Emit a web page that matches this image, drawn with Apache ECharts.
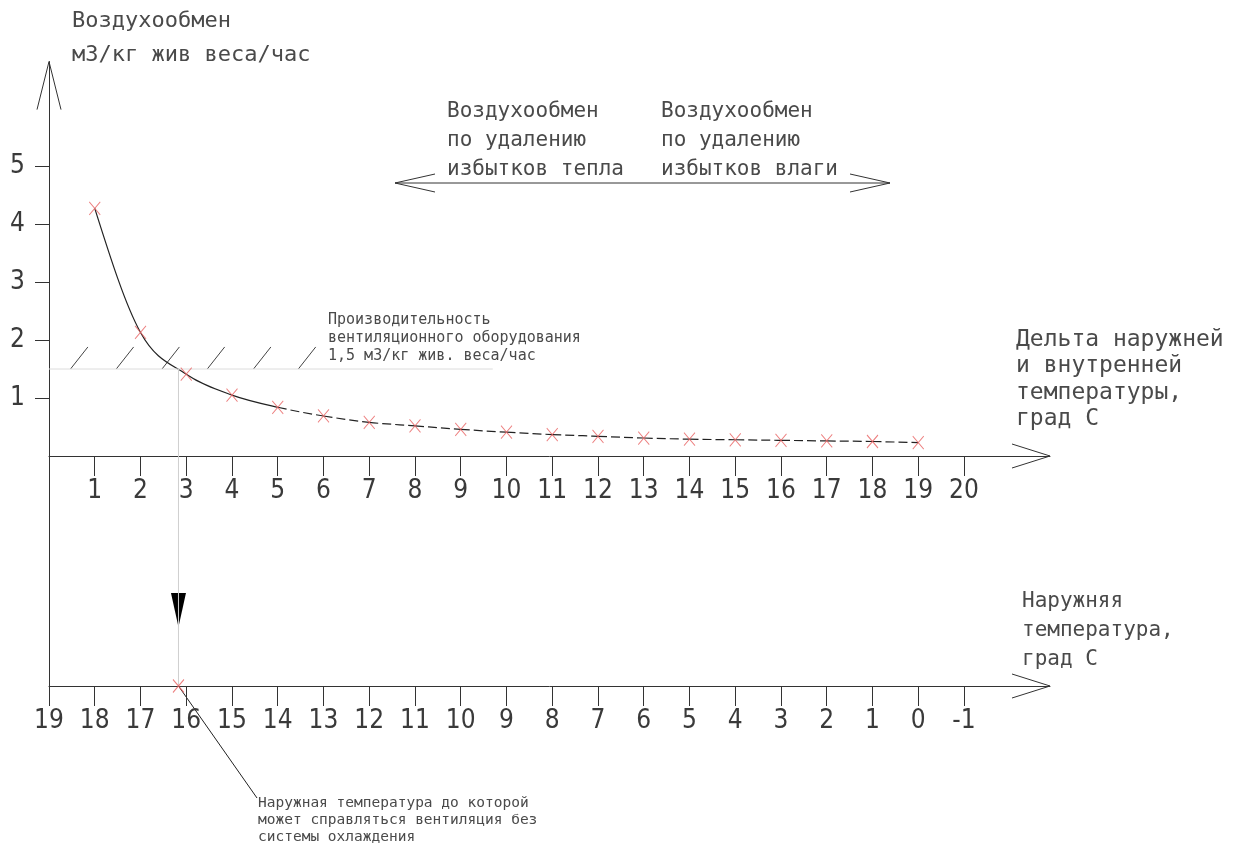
<!DOCTYPE html>
<html>
<head>
<meta charset="utf-8">
<script src="https://cdn.jsdelivr.net/npm/echarts@6/dist/echarts.min.js"></script>
<style>
  html, body { margin: 0; padding: 0; background: #fff; }
  #chart { width: 1234px; height: 852px; }
</style>
</head>
<body>
<div id="chart"></div>
<script>
// Temperature difference (outdoor vs indoor), град С
const deltaT = [1, 2, 3, 4, 5, 6, 7, 8, 9, 10, 11, 12, 13, 14, 15, 16, 17, 18, 19];
// Required air exchange, м3/кг живого веса в час
const airExchange = [4.27, 2.13, 1.41, 1.05, 0.84, 0.69, 0.58, 0.52, 0.46, 0.41, 0.37, 0.34, 0.31, 0.29, 0.28, 0.27, 0.26, 0.25, 0.23];

// Axis tick labels
const airTicks = [1, 2, 3, 4, 5];
const deltaTicks = [1, 2, 3, 4, 5, 6, 7, 8, 9, 10, 11, 12, 13, 14, 15, 16, 17, 18, 19, 20];
const outdoorTicks = [19, 18, 17, 16, 15, 14, 13, 12, 11, 10, 9, 8, 7, 6, 5, 4, 3, 2, 1, 0, -1];

// Ventilation equipment capacity and where the curve drops below it
const capacity = 1.5;
const capacityLineEnd = 9.7;
const crossDelta = 2.83;
const outdoorAtZeroDelta = 19;
const crossOutdoor = outdoorAtZeroDelta - crossDelta;

// Hatching above the capacity line (start on the line, rise up-right)
const hatchStarts = [0.47, 1.47, 2.47, 3.46, 4.47, 5.45];
const hatchRise = 0.38;

// Axis extents
const deltaMax = 21.88;
const airMax = 6.8;

// The curve is drawn solid up to this point index, dashed afterwards
const solidUntil = 4;

const INK = '#333';
const TEXT = '#4a4a4a';
const MARK = '#e86060';
const NUM_FONT = '"Liberation Sans Narrow", "DejaVu Sans Condensed", "Liberation Sans", sans-serif';
const TXT_FONT = '"DejaVu Sans Mono", "Liberation Mono", monospace';

const points = deltaT.map((d, i) => [d, airExchange[i]]);

const xMarkPath = 'path://M0,0L10,12M10,0L0,12';

const numLabel = {
  fontFamily: NUM_FONT,
  fontSize: 26,
  color: '#3a3a3a'
};

// Smooth curve through the points: one cubic Hermite segment per data item,
// Catmull-Rom tangents inside, natural (zero curvature) tangents at the ends
function tangentAt(k, c, n) {
  if (k > 0 && k < n - 1) {
    const a = c(k - 1), b = c(k + 1);
    return [(b[0] - a[0]) / 2, (b[1] - a[1]) / 2];
  }
  if (k === 0) {
    const p0 = c(0), p1 = c(1), m1 = tangentAt(1, c, n);
    return [1.5 * (p1[0] - p0[0]) - 0.5 * m1[0], 1.5 * (p1[1] - p0[1]) - 0.5 * m1[1]];
  }
  const pa = c(n - 2), pb = c(n - 1), ma = tangentAt(n - 2, c, n);
  return [1.5 * (pb[0] - pa[0]) - 0.5 * ma[0], 1.5 * (pb[1] - pa[1]) - 0.5 * ma[1]];
}

function renderCurveSegment(params, api) {
  const i = params.dataIndex;
  const n = points.length;
  if (i >= n - 1) return null;
  const c = k => api.coord(points[k]);
  const p1 = c(i), p2 = c(i + 1);
  const m1 = tangentAt(i, c, n), m2 = tangentAt(i + 1, c, n);
  return {
    type: 'bezierCurve',
    shape: {
      x1: p1[0], y1: p1[1], x2: p2[0], y2: p2[1],
      cpx1: p1[0] + m1[0] / 3, cpy1: p1[1] + m1[1] / 3,
      cpx2: p2[0] - m2[0] / 3, cpy2: p2[1] - m2[1] / 3
    },
    style: {
      stroke: '#222', lineWidth: 1.2, fill: null,
      lineDash: i >= solidUntil ? [9, 4] : null
    }
  };
}

const chart = echarts.init(document.getElementById('chart'), null, { renderer: 'canvas' });

const option = {
  animation: false,
  backgroundColor: '#fff',
  grid: [
    { left: 49, width: 1001, top: 456 - airMax * 58, height: airMax * 58 },
    { left: 49, width: 1001, top: 456, height: 230 }
  ],
  xAxis: [
    {
      gridIndex: 0, type: 'value', min: 0, max: deltaMax, position: 'bottom',
      axisLine: { show: true, onZero: false, lineStyle: { color: INK, width: 1 } },
      axisTick: { show: true, customValues: deltaTicks, length: 20, lineStyle: { color: INK } },
      axisLabel: Object.assign({ customValues: deltaTicks, margin: 22 }, numLabel),
      splitLine: { show: false }
    },
    {
      gridIndex: 1, type: 'value', min: outdoorAtZeroDelta - deltaMax, max: outdoorAtZeroDelta,
      inverse: true, position: 'bottom',
      axisLine: { show: true, onZero: false, lineStyle: { color: INK, width: 1 } },
      axisTick: { show: true, customValues: outdoorTicks, length: 20, lineStyle: { color: INK } },
      axisLabel: Object.assign({ customValues: outdoorTicks, margin: 22 }, numLabel),
      splitLine: { show: false }
    }
  ],
  yAxis: [
    {
      gridIndex: 0, type: 'value', min: 0, max: airMax, position: 'left',
      axisLine: { show: true, onZero: false, lineStyle: { color: INK, width: 1 } },
      axisTick: { show: true, customValues: airTicks, length: 14, lineStyle: { color: INK } },
      axisLabel: Object.assign({ customValues: airTicks, margin: 24 }, numLabel),
      splitLine: { show: false }
    },
    {
      gridIndex: 1, type: 'value', min: 0, max: 1, position: 'left',
      axisLine: { show: true, onZero: false, lineStyle: { color: INK, width: 1 } },
      axisTick: { show: false },
      axisLabel: { show: false },
      splitLine: { show: false }
    }
  ],
  series: [
    {
      name: 'capacity', type: 'line', xAxisIndex: 0, yAxisIndex: 0,
      data: [[0, capacity], [capacityLineEnd, capacity]],
      symbol: 'none', silent: true,
      lineStyle: { color: '#dcdcdc', width: 1 }
    },
    {
      name: 'hatch', type: 'custom', xAxisIndex: 0, yAxisIndex: 0, silent: true,
      data: hatchStarts.map(h => [h, capacity]),
      renderItem: function (params, api) {
        const a = api.coord([api.value(0), api.value(1)]);
        const b = api.coord([api.value(0) + hatchRise, api.value(1) + hatchRise]);
        return {
          type: 'line',
          shape: { x1: a[0], y1: a[1], x2: b[0], y2: b[1] },
          style: { stroke: '#444', lineWidth: 1 }
        };
      }
    },
    {
      name: 'drop-upper', type: 'line', xAxisIndex: 0, yAxisIndex: 0,
      data: [[crossDelta, capacity], [crossDelta, 0]],
      symbol: 'none', silent: true,
      lineStyle: { color: '#cfcfcf', width: 1 }
    },
    {
      name: 'drop-lower', type: 'line', xAxisIndex: 1, yAxisIndex: 1,
      data: [[crossOutdoor, 1], [crossOutdoor, 0]],
      symbol: 'none', silent: true,
      lineStyle: { color: '#cfcfcf', width: 1 }
    },
    {
      name: 'curve', type: 'custom', xAxisIndex: 0, yAxisIndex: 0, silent: true,
      data: points, renderItem: renderCurveSegment, z: 3
    },
    {
      name: 'points', type: 'scatter', xAxisIndex: 0, yAxisIndex: 0,
      data: points, symbol: xMarkPath, symbolSize: [11, 13], silent: true,
      itemStyle: { color: 'transparent', borderColor: MARK, borderWidth: 1 },
      z: 5
    },
    {
      name: 'outdoor-point', type: 'scatter', xAxisIndex: 1, yAxisIndex: 1,
      data: [[crossOutdoor, 0]], symbol: xMarkPath, symbolSize: [11, 13], silent: true,
      itemStyle: { color: 'transparent', borderColor: MARK, borderWidth: 1 },
      z: 5
    }
  ]
};

chart.setOption(option);

// Arrowheads, pointers and captions placed relative to the axes
function openArrow(tip, dx1, dy1, dx2, dy2) {
  return {
    type: 'polyline', silent: true,
    shape: { points: [[tip[0] + dx1, tip[1] + dy1], tip, [tip[0] + dx2, tip[1] + dy2]] },
    style: { stroke: INK, lineWidth: 1, fill: null }
  };
}
function caption(x, y, lines, size, gap) {
  return lines.map((t, i) => ({
    type: 'text', silent: true, x: x, y: y + i * gap,
    style: {
      text: t, fill: TEXT, verticalAlign: 'middle', align: 'left',
      font: size + 'px ' + TXT_FONT
    }
  }));
}

const yTip = chart.convertToPixel({ gridIndex: 0 }, [0, airMax]);
const xTip = chart.convertToPixel({ gridIndex: 0 }, [deltaMax, 0]);
const lowTip = chart.convertToPixel({ gridIndex: 1 }, [outdoorAtZeroDelta - deltaMax, 0]);
const lowCross = chart.convertToPixel({ gridIndex: 1 }, [crossOutdoor, 0]);

const graphics = [
  openArrow(yTip, -12, 48, 12, 48),
  openArrow(xTip, -38, -12, -38, 12),
  openArrow(lowTip, -38, -12, -38, 12),
  // double-headed arrow over the two regimes
  {
    type: 'line', silent: true,
    shape: { x1: 395, y1: 183, x2: 890, y2: 183 },
    style: { stroke: INK, lineWidth: 1 }
  },
  openArrow([395, 183], 40, -9, 40, 9),
  openArrow([890, 183], -40, -9, -40, 9),
  // filled pointer on the drop line
  {
    type: 'polygon', silent: true,
    shape: { points: [[lowCross[0] - 7.5, 593], [lowCross[0] + 7.5, 593], [lowCross[0], 627]] },
    style: { fill: '#000' }
  },
  // leader to the note below the chart
  {
    type: 'line', silent: true,
    shape: { x1: lowCross[0], y1: lowCross[1], x2: 257, y2: 798 },
    style: { stroke: '#222', lineWidth: 1 }
  }
]
  .concat(caption(72, 21, ['Воздухообмен', 'м3/кг жив веса/час'], 22, 34))
  .concat(caption(447, 112, ['Воздухообмен', 'по удалению', 'избытков тепла'], 21, 29))
  .concat(caption(661, 112, ['Воздухообмен', 'по удалению', 'избытков влаги'], 21, 29))
  .concat(caption(328, 320, ['Производительность', 'вентиляционного оборудования', '1,5 м3/кг жив. веса/час'], 15, 18))
  .concat(caption(1016, 340, ['Дельта наружней', 'и внутренней', 'температуры,', 'град С'], 23, 26.5))
  .concat(caption(1022, 602, ['Наружняя', 'температура,', 'град С'], 21, 29))
  .concat(caption(258, 803, ['Наружная температура до которой', 'может справляться вентиляция без', 'системы охлаждения'], 14.5, 17));

chart.setOption({ graphic: graphics });
</script>
</body>
</html>
